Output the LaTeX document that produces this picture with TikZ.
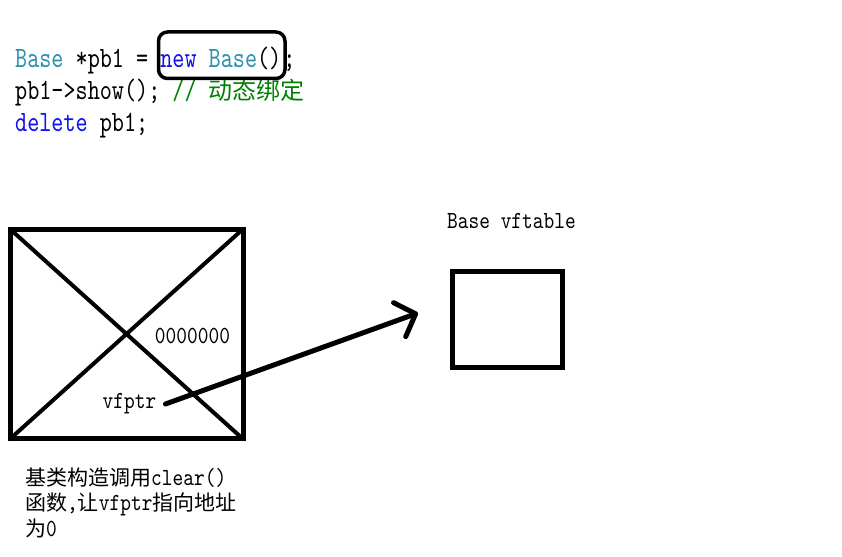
\documentclass[tikz,border=0pt]{standalone}
\usepackage{fontspec}
\newfontfamily\codemono[FakeStretch=0.781]{lmmono10-regular.otf}
\newfontfamily\lblmono[FakeStretch=0.83]{lmmono10-regular.otf}
\newfontfamily\cjk{Noto Sans CJK SC}
\usetikzlibrary{arrows.meta}

\definecolor{typc}{HTML}{2B91AF}
\definecolor{kwc}{HTML}{1010F0}
\definecolor{cmtc}{HTML}{008000}

\newcommand\codefont{\codemono\fontsize{29.5}{32}\selectfont}
\newcommand\lblfont{\lblmono\fontsize{24.6}{26}\selectfont}
\newcommand\tp[1]{\textcolor{typc}{#1}}
\newcommand\kw[1]{\textcolor{kwc}{#1}}
\newcommand\zhcode[1]{{\cjk\fontsize{24}{28}\selectfont#1}}
\newcommand\zhnote[1]{{\cjk\fontsize{21}{25}\selectfont#1}}

\begin{document}
\begin{tikzpicture}[
  x=1pt,y=-1pt,
  codeline/.style={anchor=base west,inner sep=0pt,font=\codefont},
  noteline/.style={anchor=base west,inner sep=0pt,font=\lblfont},
  lbl/.style={inner sep=0pt,font=\lblfont},
  hlbox/.style={draw,line width=3.5pt,rounded corners=9pt},
  objbox/.style={draw,line width=5pt,inner sep=0pt,
    minimum width=233pt,minimum height=209.5pt},
  vtblbox/.style={draw,line width=5pt,inner sep=0pt,
    minimum width=110pt,minimum height=96pt},
  diag/.style={line width=4pt,shorten <=2.5pt,shorten >=2.5pt},
  ptrline/.style={line width=5pt,line cap=round,
    -{Straight Barb[length=17pt,width=36pt,round]}},
  ]
  \useasboundingbox (0,0) rectangle (842,556);
  % code
  \node[codeline](code1) at (15,68)
    {\tp{Base} *pb1 = \kw{new} \tp{Base}()\kern2pt;};
  \node[codeline](code2) at (15,100)
    {pb1->show(); \textcolor{cmtc}{// \zhcode{动态绑定}}};
  \node[codeline](code3) at (15,132) {\kw{delete} pb1;};
  \draw[hlbox] (158.5,32) rectangle (285,78.5);
  % object
  \node[objbox](obj) at (126.5,334) {};
  \draw[diag] (obj.north west) -- (obj.south east);
  \draw[diag] (obj.south west) -- (obj.north east);
  \node[lbl](zero) at (192.5,335.5) {0000000};
  \node[lbl,inner xsep=9pt](ptr) at (129.5,404) {vfptr};
  % vftable
  \node[lbl](title) at (511.5,221) {Base vftable};
  \node[vtblbox](vtbl) at (507,319) {};
  \coordinate (tip) at (418,313);
  \draw[ptrline] (ptr.east) -- (tip);
  % note
  \node[noteline](note1) at (25,485) {\zhnote{基类构造调用}clear()};
  \node[noteline](note2) at (25,510.5) {\zhnote{函数},\zhnote{让}vfptr\zhnote{指向地址}};
  \node[noteline](note3) at (25,536) {\zhnote{为}0};
\end{tikzpicture}
\end{document}
